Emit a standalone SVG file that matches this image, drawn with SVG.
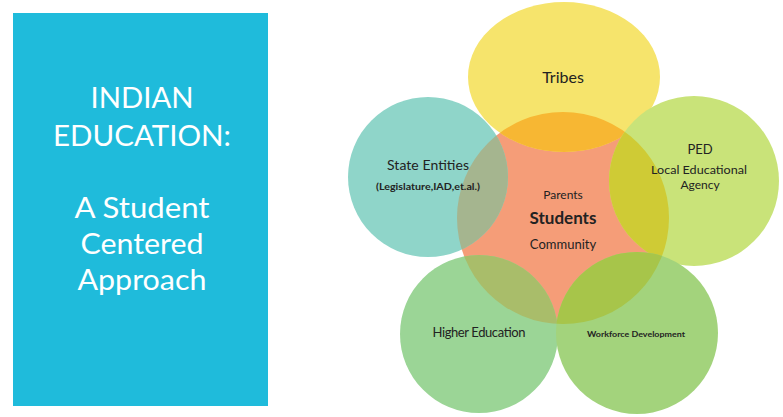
<svg xmlns="http://www.w3.org/2000/svg" width="783" height="417" viewBox="0 0 783 417">
<style>
.title{font-family:Lato,"Open Sans","Liberation Sans",sans-serif;fill:#ffffff;font-size:29px;text-anchor:middle}
.lbl{font-family:Lato,"Open Sans","Liberation Sans",sans-serif;fill:#222222;text-anchor:middle}
</style>
<defs>
<clipPath id="cc"><circle cx="563" cy="218" r="106"/></clipPath>
</defs>
<rect width="783" height="417" fill="#ffffff"/>
<g id="title-panel">
<rect x="13" y="13" width="255" height="393" fill="#1fbbdb"/>
<text class="title" x="142" y="108" textLength="103" lengthAdjust="spacingAndGlyphs">INDIAN</text>
<text class="title" x="142" y="146" textLength="178" lengthAdjust="spacingAndGlyphs">EDUCATION:</text>
<text class="title" x="142" y="218" textLength="135" lengthAdjust="spacingAndGlyphs">A Student</text>
<text class="title" x="142" y="254" textLength="123" lengthAdjust="spacingAndGlyphs">Centered</text>
<text class="title" x="142" y="290" textLength="129" lengthAdjust="spacingAndGlyphs">Approach</text>
</g>
<g id="students">
<circle cx="563" cy="218" r="106" fill="#f59d78"/>
</g>
<g id="tribes">
<ellipse cx="564" cy="77" rx="96" ry="75" fill="#f6e46c"/>
<ellipse cx="564" cy="77" rx="96" ry="75" fill="#f7b733" clip-path="url(#cc)"/>
<text class="lbl" x="563" y="83" font-size="16">Tribes</text>
</g>
<g id="state-entities">
<circle cx="428" cy="177" r="80" fill="#8fd5c9"/>
<circle cx="428" cy="177" r="80" fill="#a5b58f" clip-path="url(#cc)"/>
<text class="lbl" x="428" y="170" font-size="14" textLength="82">State Entities</text>
<text class="lbl" x="428" y="190" font-size="9" font-weight="bold" textLength="104" lengthAdjust="spacingAndGlyphs">(Legislature,IAD,et.al.)</text>
</g>
<g id="ped">
<circle cx="694" cy="181" r="85" fill="#c9e379"/>
<circle cx="694" cy="181" r="85" fill="#cfcb35" clip-path="url(#cc)"/>
<text class="lbl" x="700" y="154" font-size="13">PED</text>
<text class="lbl" x="699" y="174" font-size="12" textLength="96" lengthAdjust="spacingAndGlyphs">Local Educational</text>
<text class="lbl" x="700" y="189" font-size="12">Agency</text>
</g>
<g id="higher-education">
<circle cx="479" cy="334" r="79" fill="#9bd596"/>
<circle cx="479" cy="334" r="79" fill="#a9bd6a" clip-path="url(#cc)"/>
<text class="lbl" x="479" y="337" font-size="13" textLength="93">Higher Education</text>
</g>
<g id="workforce-development">
<circle cx="637" cy="333" r="81" fill="#a3d37c"/>
<circle cx="637" cy="333" r="81" fill="#a7c54a" clip-path="url(#cc)"/>
<text class="lbl" x="636" y="337" font-size="8" font-weight="bold" textLength="98" lengthAdjust="spacingAndGlyphs">Workforce Development</text>
</g>
<g id="students-labels">
<text class="lbl" x="563" y="199" font-size="12">Parents</text>
<text class="lbl" x="563" y="224" font-size="17" font-weight="bold">Students</text>
<text class="lbl" x="563" y="249" font-size="13">Community</text>
</g>
</svg>
